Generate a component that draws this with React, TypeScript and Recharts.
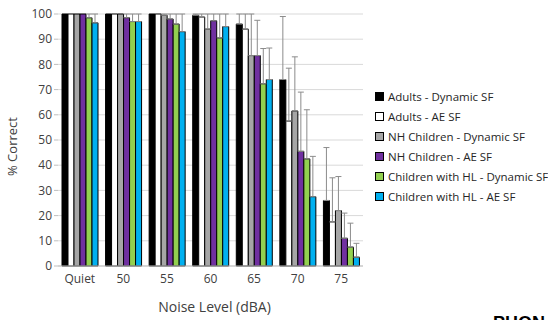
import { BarChart, Bar, XAxis, YAxis, CartesianGrid, ErrorBar } from 'recharts'

const categories = ['Quiet', '50', '55', '60', '65', '70', '75']
const yTicks = [0, 10, 20, 30, 40, 50, 60, 70, 80, 90, 100]

const adultsDynamic = [100, 100, 100, 99.5, 96, 74, 26]
const adultsAE = [100, 100, 100, 98.8, 94, 57.5, 17.5]
const nhDynamic = [100, 100, 99.5, 94, 83.5, 61.5, 22]
const nhAE = [100, 98.5, 98, 97.3, 83.5, 45.5, 11]
const hlDynamic = [98.5, 97, 96, 90.5, 72.3, 42.5, 7.5]
const hlAE = [96.5, 97, 93, 95, 74, 27.5, 3.5]

// upper error only (Excel "plus" bars)
const adultsDynamicErr = [0, 0, 0, 0.5, 4, 25, 21]
const adultsAEErr = [0, 0, 0, 1.2, 6, 21, 17.5]
const nhDynamicErr = [0, 0, 0.5, 6, 16.5, 21.5, 13.5]
const nhAEErr = [0, 1.5, 2, 2.7, 14, 23.5, 10]
const hlDynamicErr = [1.5, 3, 4, 9.5, 14, 19.5, 9.5]
const hlAEErr = [3.5, 3, 7, 5, 12.5, 16, 5.5]

const series = [
  { key: 'adDyn', name: 'Adults - Dynamic SF', color: '#000000', values: adultsDynamic, err: adultsDynamicErr },
  { key: 'adAE', name: 'Adults - AE SF', color: '#ffffff', values: adultsAE, err: adultsAEErr },
  { key: 'nhDyn', name: 'NH Children - Dynamic SF', color: '#a6a6a6', values: nhDynamic, err: nhDynamicErr },
  { key: 'nhAE', name: 'NH Children - AE SF', color: '#7030a0', values: nhAE, err: nhAEErr },
  { key: 'hlDyn', name: 'Children with HL - Dynamic SF', color: '#92d050', values: hlDynamic, err: hlDynamicErr },
  { key: 'hlAE', name: 'Children with HL - AE SF', color: '#00b0f0', values: hlAE, err: hlAEErr },
]

const chartData = categories.map((c, i) => {
  const row: Record<string, any> = { name: c }
  series.forEach(s => {
    row[s.key] = s.values[i]
    row[s.key + 'Err'] = s.err[i] > 0 ? [0, s.err[i]] : null
  })
  return row
})

const font = 'Open Sans, Lato, sans-serif'

// only draw real horizontal grid lines
const gridLine = (p: any) =>
  p.y1 === p.y2 ? <line key={p.key} x1={p.x1} y1={p.y1} x2={p.x2} y2={p.y2} stroke="#d9d9d9" strokeWidth={1} /> : <g key={p.key} />

export default function App() {
  return (
    <div style={{ position: 'fixed', left: 0, top: 0, width: 548, height: 320, overflow: 'hidden', background: '#fff', fontFamily: font }}>
      <BarChart
        width={548}
        height={320}
        data={chartData}
        margin={{ top: 14, right: 185, left: 8, bottom: 24 }}
        barCategoryGap={4}
        barGap={0}
      >
        <CartesianGrid vertical={false} verticalPoints={[]} horizontal={gridLine} stroke="#d9d9d9" />
        <XAxis
          dataKey="name"
          height={30}
          stroke="#bfbfbf"
          tick={{ fill: '#404040', fontSize: 12, fontFamily: font }}
          tickLine={false}
          label={{ value: 'Noise Level (dBA)', position: 'insideBottom', offset: -16, dx: 4, fill: '#404040', fontSize: 14, fontFamily: font }}
        />
        <YAxis
          width={50}
          domain={[0, 100]}
          ticks={yTicks}
          axisLine={false}
          tickLine={{ stroke: '#bfbfbf' }}
          tickSize={4}
          tick={{ fill: '#404040', fontSize: 12, fontFamily: font }}
          label={{ value: '% Correct', angle: -90, position: 'insideLeft', offset: 4, dy: 36, fill: '#404040', fontSize: 13, fontFamily: font }}
        />
        {series.map(s => (
          <Bar key={s.key} dataKey={s.key} name={s.name} fill={s.color} stroke="#000" strokeWidth={1} isAnimationActive={false}>
            <ErrorBar dataKey={s.key + 'Err'} width={3} stroke="#8c8c8c" strokeWidth={1} direction="y" />
          </Bar>
        ))}
      </BarChart>
      <div style={{ position: 'absolute', left: 375, top: 86 }}>
        {series.map(s => (
          <div key={s.key} style={{ display: 'flex', alignItems: 'center', height: 20, fontSize: 11.5, color: '#262626', whiteSpace: 'nowrap' }}>
            <span style={{ width: 7, height: 7, background: s.color, border: '1px solid #000', marginRight: 4, display: 'inline-block', flexShrink: 0 }} />
            {s.name}
          </div>
        ))}
      </div>
      <div style={{ position: 'absolute', left: 493, top: 313, fontWeight: 'bold', fontSize: 18, color: '#000', fontFamily: 'Liberation Sans, sans-serif' }}>
        PHONAK
      </div>
    </div>
  )
}
